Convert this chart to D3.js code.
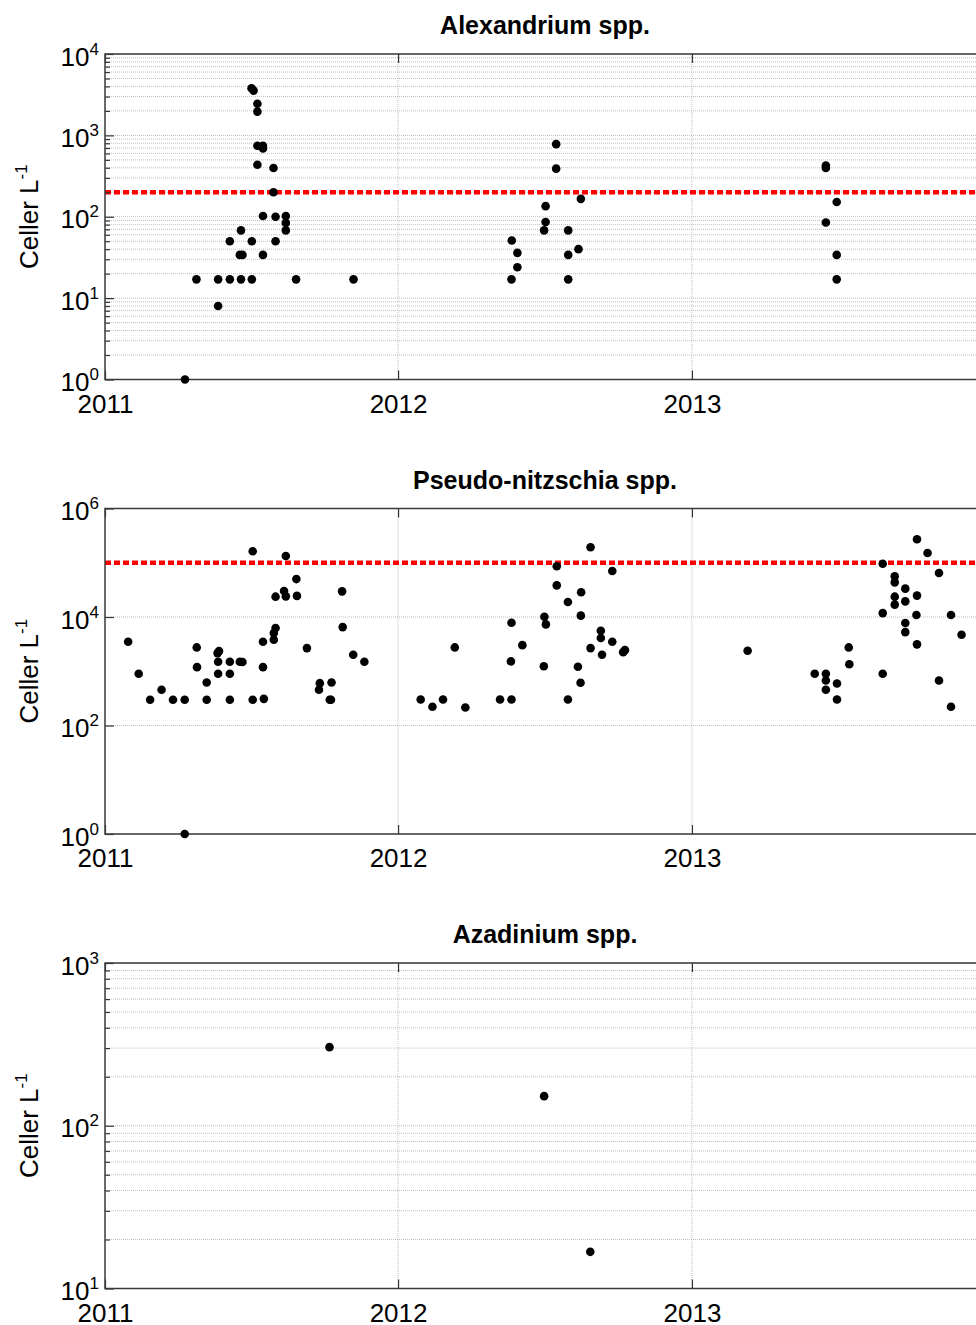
<!DOCTYPE html>
<html>
<head>
<meta charset="utf-8">
<script src="https://cdn.jsdelivr.net/npm/d3@7"></script>
<style>
  body { margin: 0; background: #fff; }
  svg { display: block; font-family: "Liberation Sans", Arial, sans-serif; }
</style>
</head>
<body>
<script>
// [decimal year, cells per litre]
const alexandrium = [
	[2011.273, 1], [2011.312, 17], [2011.386, 17], [2011.386, 8], [2011.426, 17],
	[2011.426, 50], [2011.464, 17], [2011.464, 68], [2011.460, 34], [2011.469, 34],
	[2011.501, 17], [2011.501, 50], [2011.500, 3800], [2011.507, 3550], [2011.520, 436],
	[2011.520, 745], [2011.520, 1960], [2011.520, 2450], [2011.539, 34], [2011.539, 102],
	[2011.539, 745], [2011.539, 690], [2011.575, 200], [2011.575, 397], [2011.582, 50],
	[2011.582, 100], [2011.617, 102], [2011.617, 84], [2011.617, 68], [2011.652, 17],
	[2011.848, 17],
	[2012.386, 17], [2012.406, 24], [2012.406, 36], [2012.387, 51], [2012.497, 68],
	[2012.502, 86], [2012.502, 135], [2012.538, 390], [2012.538, 780], [2012.579, 68],
	[2012.579, 34], [2012.579, 17], [2012.614, 40], [2012.622, 166],
	[2013.457, 425], [2013.457, 397], [2013.457, 85], [2013.494, 152], [2013.494, 34],
	[2013.494, 17]
];

const pseudoNitzschia = [
	[2011.079, 3500], [2011.115, 900], [2011.154, 298], [2011.193, 455], [2011.232, 298],
	[2011.272, 298], [2011.272, 1], [2011.313, 2750], [2011.314, 1190], [2011.347, 621],
	[2011.347, 298], [2011.384, 2160], [2011.389, 2350], [2011.386, 1500], [2011.386, 900],
	[2011.426, 1500], [2011.426, 900], [2011.426, 298], [2011.460, 1500], [2011.469, 1480],
	[2011.504, 298], [2011.504, 163000], [2011.539, 3500], [2011.539, 1190], [2011.542, 310],
	[2011.576, 3810], [2011.576, 5050], [2011.582, 6250], [2011.582, 23700], [2011.611, 30100],
	[2011.617, 24000], [2011.617, 133000], [2011.653, 50000], [2011.655, 24500], [2011.689, 2670],
	[2011.730, 455], [2011.733, 603], [2011.767, 298], [2011.771, 298], [2011.773, 621],
	[2011.809, 29700], [2011.811, 6510], [2011.847, 2010], [2011.885, 1500],
	[2012.077, 301], [2012.117, 221], [2012.153, 301], [2012.193, 2750], [2012.229, 215],
	[2012.347, 301], [2012.386, 301], [2012.384, 1520], [2012.386, 7850], [2012.423, 3030],
	[2012.496, 1240], [2012.498, 10100], [2012.503, 7310], [2012.540, 38300], [2012.540, 86000],
	[2012.578, 18900], [2012.578, 301], [2012.612, 1210], [2012.621, 614], [2012.622, 10600],
	[2012.623, 28500], [2012.655, 193000], [2012.655, 2670], [2012.690, 5590], [2012.690, 4090],
	[2012.694, 2010], [2012.729, 70400], [2012.729, 3500], [2012.766, 2250], [2012.772, 2450],
	[2013.190, 2390], [2013.419, 900], [2013.457, 900], [2013.457, 676], [2013.457, 455],
	[2013.495, 595], [2013.495, 301], [2013.535, 2750], [2013.537, 1350], [2013.651, 900],
	[2013.651, 11800], [2013.651, 96000], [2013.692, 56200], [2013.692, 43500], [2013.692, 23700],
	[2013.692, 16900], [2013.728, 33300], [2013.728, 19400], [2013.728, 7730], [2013.728, 5270],
	[2013.768, 271000], [2013.768, 24800], [2013.766, 10900], [2013.768, 3130], [2013.804, 151000],
	[2013.843, 64700], [2013.843, 676], [2013.884, 10900], [2013.884, 221], [2013.920, 4720]
];

const azadinium = [
	[2011.766, 304], [2012.497, 152], [2012.654, 16.8]
];

const titles = ["Alexandrium spp.", "Pseudo-nitzschia spp.", "Azadinium spp."];
const thresholds = [200, 1e5, null];
const yearTicks = [2011, 2012, 2013];
const yearDomain = [2011, 2014];

function toDate(y) {
	let yr = Math.floor(y);
	let a = Date.UTC(yr, 0, 1), b = Date.UTC(yr + 1, 0, 1);
	return new Date(a + (y - yr) * (b - a));
}

let svg = d3.select("body").append("svg")
	.attr("width", 976)
	.attr("height", 1325);

svg.append("rect").attr("width", 976).attr("height", 1325).attr("fill", "#fff");

function panel(data, options) {
	let x = d3.scaleUtc().domain(yearDomain.map(toDate)).range([options.left, options.right]);
	let y = d3.scaleLog().domain(options.domain).range([options.bottom, options.top]);

	let e0 = Math.round(Math.log10(options.domain[0])),
		e1 = Math.round(Math.log10(options.domain[1]));
	let majors = d3.range(e0, e1 + 1, options.step).map(e => Math.pow(10, e));
	let minors = [];
	if (options.minor) {
		d3.range(e0, e1).forEach(e => d3.range(2, 10).forEach(k => minors.push(k * Math.pow(10, e))));
	}

	let g = svg.append("g");

	// grid
	g.append("g")
		.selectAll("line")
		.data(majors.concat(minors))
		.join("line")
			.attr("x1", options.left).attr("x2", options.right)
			.attr("y1", d => y(d)).attr("y2", d => y(d))
			.attr("stroke", "#bfbfbf")
			.attr("stroke-dasharray", "1,1");

	g.append("g")
		.selectAll("line")
		.data(yearTicks.slice(1).map(toDate))
		.join("line")
			.attr("x1", d => x(d)).attr("x2", d => x(d))
			.attr("y1", options.top).attr("y2", options.bottom)
			.attr("stroke", "#bfbfbf")
			.attr("stroke-dasharray", "1,1");

	if (options.threshold) {
		g.append("line")
			.attr("x1", options.left).attr("x2", options.right)
			.attr("y1", y(options.threshold)).attr("y2", y(options.threshold))
			.attr("stroke", "#ff0000")
			.attr("stroke-width", 4.5)
			.attr("stroke-dasharray", "6,3");
	}

	// axes (ticks point inwards, like MATLAB)
	let yAxis = g.append("g")
		.attr("transform", `translate(${options.left},0)`)
		.call(d3.axisLeft(y).tickValues(majors).tickSize(-9).tickPadding(6).tickFormat(d => d));
	yAxis.selectAll(".tick text").each(function(d) {
		let t = d3.select(this);
		t.text(null).attr("dy", null).attr("y", 11);
		t.append("tspan").text("10");
		t.append("tspan").attr("dy", -11).attr("font-size", 17).text(Math.round(Math.log10(d)));
	});

	if (minors.length) {
		g.append("g")
			.attr("transform", `translate(${options.left},0)`)
			.call(d3.axisLeft(y).tickValues(minors).tickSize(-5).tickFormat(""));
	}

	g.append("g")
		.attr("transform", `translate(0,${options.bottom})`)
		.call(d3.axisBottom(x).tickValues(yearTicks.map(toDate)).tickSize(-9).tickPadding(15)
			.tickFormat(d3.utcFormat("%Y")));

	g.append("g")
		.attr("transform", `translate(0,${options.top})`)
		.call(d3.axisTop(x).tickValues(yearTicks.map(toDate)).tickSize(-9).tickFormat(""));

	g.selectAll(".domain").remove();
	g.selectAll(".tick line").attr("stroke", "#333").attr("stroke-width", 1.2);
	g.selectAll(".tick text").attr("fill", "#000");
	g.selectAll("g").attr("font-size", 26).attr("font-family", null);

	// frame
	g.append("rect")
		.attr("x", options.left).attr("y", options.top)
		.attr("width", options.right - options.left)
		.attr("height", options.bottom - options.top)
		.attr("fill", "none")
		.attr("stroke", "#3a3a3a")
		.attr("stroke-width", 1.5);

	// points
	g.append("g")
		.selectAll("circle")
		.data(data)
		.join("circle")
			.attr("cx", d => x(toDate(d[0])))
			.attr("cy", d => y(d[1]))
			.attr("r", 4.3)
			.attr("fill", "#000");

	g.append("text")
		.attr("x", (options.left + options.right) / 2)
		.attr("y", options.top - 20)
		.attr("text-anchor", "middle")
		.attr("font-size", 25)
		.attr("font-weight", "bold")
		.text(options.title);

	let label = g.append("text")
		.attr("transform", `translate(38,${(options.top + options.bottom) / 2}) rotate(-90)`)
		.attr("text-anchor", "middle")
		.attr("font-size", 26);
	label.append("tspan").text("Celler L");
	label.append("tspan").attr("dy", -11).attr("font-size", 17).text("-1");
}

let tops = [54, 508.5, 963];
let domains = [[1, 1e4], [1, 1e6], [10, 1e3]];
let steps = [1, 2, 1];
let series = [alexandrium, pseudoNitzschia, azadinium];

series.forEach((data, i) => {
	panel(data, {
		title: titles[i],
		threshold: thresholds[i],
		domain: domains[i],
		step: steps[i],
		minor: steps[i] === 1,
		left: 105,
		right: 985,
		top: tops[i],
		bottom: tops[i] + 325.5
	});
});
</script>
</body>
</html>
